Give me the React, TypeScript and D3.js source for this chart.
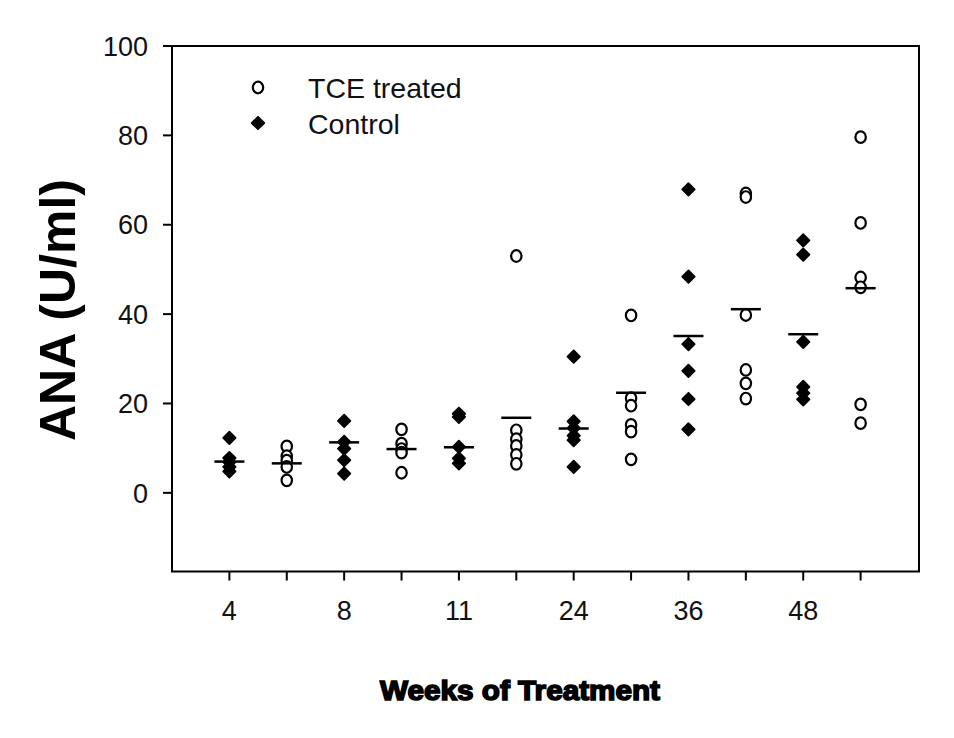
import React from "react";
import * as d3 from "d3";

const weeks = ["4", "8", "11", "24", "36", "48"];

const controlValues: number[][] = [
  [12.3, 7.8, 6.9, 5.8, 4.8],
  [16.1, 11.4, 9.9, 7.3, 4.3],
  [17.7, 17.0, 10.3, 7.7, 6.6],
  [30.5, 16.0, 14.5, 12.8, 11.8, 5.8],
  [67.9, 48.4, 33.3, 27.3, 21.0, 14.2],
  [56.5, 53.3, 33.8, 23.7, 22.3, 20.9],
];
const controlMeans = [7.0, 11.3, 10.2, 14.4, 35.1, 35.5];

const tceValues: number[][] = [
  [10.4, 8.2, 7.2, 5.8, 2.8],
  [14.2, 11.0, 9.8, 9.0, 4.5],
  [53.0, 14.0, 12.0, 10.5, 8.5, 6.5],
  [39.7, 21.2, 19.5, 15.2, 13.7, 7.5],
  [67.0, 66.2, 39.8, 27.5, 24.5, 21.1],
  [79.6, 60.4, 48.2, 46.0, 19.8, 15.6],
];
const tceMeans = [6.6, 9.8, 16.8, 22.4, 41.1, 45.8];

const yTicks = [0, 20, 40, 60, 80, 100];
const yDomain = [-17.6, 100];

const W = 954;
const H = 738;
const left = 172;
const right = 918;
const top = 46;
const bottom = 571.5;
const FONT = "Arial, 'Liberation Sans', sans-serif";

const slots = weeks.flatMap((w, i) => [`c${i}`, `t${i}`]);

const diamond = (cx: number, cy: number, r = 6) =>
  `M${cx},${cy - r}L${cx + r},${cy}L${cx},${cy + r}L${cx - r},${cy}Z`;

export default function App() {
  const x = d3.scalePoint<string>().domain(slots).range([left, right]).padding(1);
  const y = d3.scaleLinear().domain(yDomain).range([bottom, top]);

  const OpenMark = ({ cx, cy }: { cx: number; cy: number }) => (
    <ellipse cx={cx} cy={cy} rx={5.2} ry={5.8} fill="white" stroke="black" strokeWidth={2.2} />
  );
  const FilledMark = ({ cx, cy }: { cx: number; cy: number }) => (
    <path d={diamond(cx, cy, 6.2)} fill="black" stroke="black" strokeWidth={1.8} strokeLinejoin="round" />
  );

  return (
    <svg width={W} height={H} style={{ position: "absolute", left: 0, top: 0, background: "white" }}>
      <rect x={0} y={0} width={W} height={H} fill="white" />
      <rect x={left} y={top} width={right - left + 1} height={bottom - top} fill="none" stroke="black" strokeWidth={2} />
      {yTicks.map((t) => (
        <g key={t}>
          <line x1={left - 9} x2={left} y1={y(t)} y2={y(t)} stroke="black" strokeWidth={2} />
          <text x={148} y={y(t)} dy="0.36em" textAnchor="end" fontFamily={FONT} fontSize={27} fill="#111">
            {t}
          </text>
        </g>
      ))}
      {slots.map((s, i) => (
        <g key={s}>
          <line x1={x(s)!} x2={x(s)!} y1={bottom} y2={bottom + 9} stroke="black" strokeWidth={2} />
          {i % 2 === 0 && (
            <text x={x(s)!} y={620} textAnchor="middle" fontFamily={FONT} fontSize={27} fill="#111">
              {weeks[i / 2]}
            </text>
          )}
        </g>
      ))}
      {controlValues.map((vals, i) =>
        vals.map((v, j) => <FilledMark key={`c${i}-${j}`} cx={x(`c${i}`)!} cy={y(v)} />)
      )}
      {tceValues.map((vals, i) =>
        vals.map((v, j) => <OpenMark key={`t${i}-${j}`} cx={x(`t${i}`)!} cy={y(v)} />)
      )}
      {controlMeans.map((m, i) => (
        <line key={`cm${i}`} x1={x(`c${i}`)! - 15} x2={x(`c${i}`)! + 15} y1={y(m)} y2={y(m)} stroke="black" strokeWidth={2.5} />
      ))}
      {tceMeans.map((m, i) => (
        <line key={`tm${i}`} x1={x(`t${i}`)! - 15} x2={x(`t${i}`)! + 15} y1={y(m)} y2={y(m)} stroke="black" strokeWidth={2.5} />
      ))}
      <OpenMark cx={258} cy={87.5} />
      <text x={308} y={97.5} fontFamily={FONT} fontSize={28.5} fill="#111">TCE treated</text>
      <FilledMark cx={258} cy={123} />
      <text x={308} y={133.5} fontFamily={FONT} fontSize={28.5} fill="#111">Control</text>
      <text
        transform="translate(75,310) rotate(-90)"
        textAnchor="middle"
        fontFamily={FONT}
        fontSize={50}
        fontWeight="bold"
        fill="black"
      >
        ANA (U/ml)
      </text>
      <text
        x={520}
        y={700}
        textAnchor="middle"
        fontFamily={FONT}
        fontSize={28}
        fontWeight="bold"
        fill="black"
        stroke="black"
        strokeWidth={1.6}
        textLength={280}
        lengthAdjust="spacingAndGlyphs"
      >
        Weeks of Treatment
      </text>
    </svg>
  );
}
